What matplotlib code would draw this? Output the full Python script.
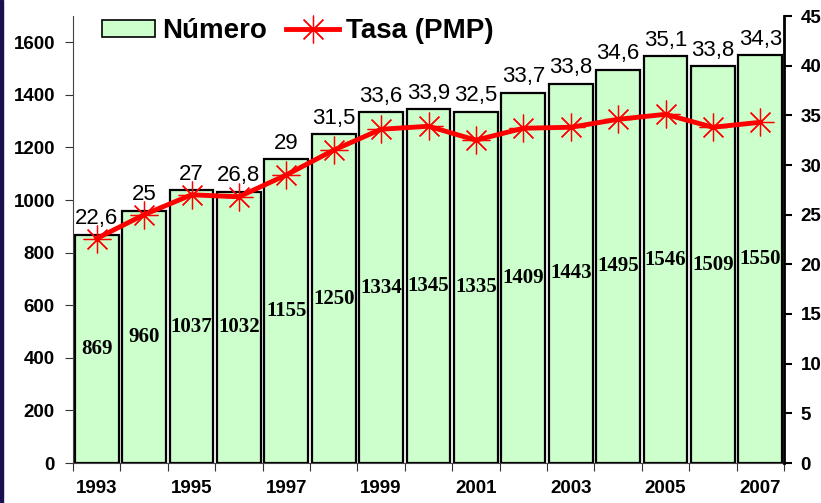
import matplotlib.pyplot as plt
import numpy as np
from matplotlib.lines import Line2D
from matplotlib.patches import Patch

years = list(range(1993, 2008))
numero = [869, 960, 1037, 1032, 1155, 1250, 1334, 1345, 1335, 1409, 1443, 1495, 1546, 1509, 1550]
tasa = [22.6, 25, 27, 26.8, 29, 31.5, 33.6, 33.9, 32.5, 33.7, 33.8, 34.6, 35.1, 33.8, 34.3]
tasa_labels = ["22,6", "25", "27", "26,8", "29", "31,5", "33,6", "33,9", "32,5",
               "33,7", "33,8", "34,6", "35,1", "33,8", "34,3"]

sans = ["Liberation Sans", "DejaVu Sans"]
serif = ["Liberation Serif", "DejaVu Serif"]

fig = plt.figure(figsize=(8.21, 5.03), dpi=100)
ax = fig.add_axes([73 / 821, 1 - 463 / 503, (784 - 73) / 821, (463 - 16) / 503])
ax2 = ax.twinx()

x = np.arange(len(years))
green = "#ccffcc"
star = (8, 2, 0)

ax.bar(x, numero, width=0.92, color=green, edgecolor="black", linewidth=1.6, zorder=2)
for xi, v in zip(x, numero):
    ax.text(xi, v / 2, str(v), ha="center", va="center", fontsize=15,
            fontweight="bold", family=serif, zorder=3)

for xi, v, lab in zip(x, numero, tasa_labels):
    ax.annotate(lab, (xi, v), xytext=(0, 4), textcoords="offset points",
                ha="center", va="bottom", fontsize=16, family=sans, zorder=3)

ax.set_xlim(-0.5, len(years) - 0.5)
ax.set_ylim(0, 1700)
ax.set_yticks(range(0, 1601, 200))
ax.set_xticks(np.arange(-0.5, len(years), 1.0))
ax.set_xticklabels([])
ax.set_xticks(x[::2], minor=True)
ax.set_xticklabels([str(y) for y in years[::2]], minor=True)
ax.tick_params(axis="x", which="major", direction="out", length=6, color="#333333")
ax.tick_params(axis="x", which="minor", length=0, pad=12)
ax.tick_params(axis="y", direction="out", length=6, color="#333333", pad=7)
for lab in ax.get_xticklabels(minor=True) + ax.get_yticklabels():
    lab.set_fontweight("bold")
    lab.set_fontsize(13.5)
    lab.set_family(sans)

ax2.plot(x, tasa, color="red", linewidth=3.5, marker=star, markersize=20,
         markeredgewidth=0.9, markeredgecolor="red", zorder=4)
ax2.set_ylim(0, 45)
ax2.set_yticks(range(0, 46, 5))
ax2.tick_params(axis="y", direction="out", length=6, width=1.5, color="black", pad=6)
for lab in ax2.get_yticklabels():
    lab.set_fontweight("bold")
    lab.set_fontsize(13.5)
    lab.set_family(sans)

for a in (ax, ax2):
    a.spines["top"].set_visible(False)
ax.spines["left"].set_color("#444444")
ax.spines["bottom"].set_color("#444444")
ax2.spines["left"].set_visible(False)
ax2.spines["bottom"].set_visible(False)
ax2.spines["right"].set_linewidth(2)
ax2.spines["right"].set_color("black")

handles = [Patch(facecolor=green, edgecolor="black", linewidth=1.2),
           Line2D([], [], color="red", linewidth=3.5, marker=star, markersize=20,
                  markeredgewidth=0.9)]
fig.legend(handles, ["Número", "Tasa (PMP)"], loc="center", bbox_to_anchor=(298 / 821, 1 - 31 / 503),
           ncol=2, frameon=False, prop={"family": sans, "weight": "bold", "size": 20},
           handlelength=1.9, handleheight=0.55, handletextpad=0.25, columnspacing=0.7)

fig.patches.append(plt.Rectangle((0, 0), 2.5 / 821, 1, transform=fig.transFigure,
                                 color="#1a1050", zorder=10))

fig.savefig("out.png", dpi=100)
